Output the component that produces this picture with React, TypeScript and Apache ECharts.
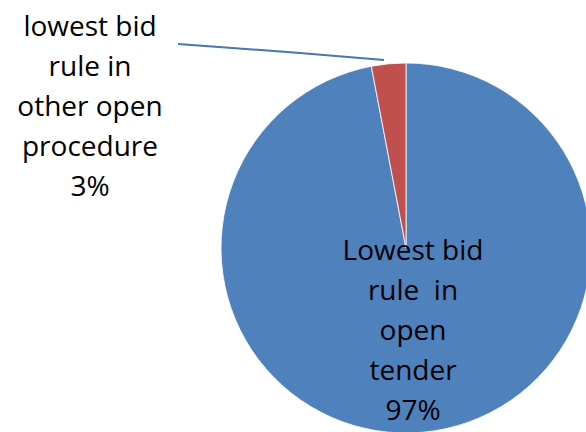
import React, { useEffect, useRef } from "react";
import * as echarts from "echarts";

const categories = [
  "Lowest bid\nrule  in\nopen\ntender",
  "lowest bid\nrule in\nother open\nprocedure",
];
const values = [97, 3];
const colors = ["#4F81BD", "#C0504D"];

export default function App() {
  const ref = useRef<HTMLDivElement>(null);
  useEffect(() => {
    if (!ref.current) return;
    const chart = echarts.init(ref.current, undefined, { renderer: "svg" });
    chart.setOption({
      animation: false,
      backgroundColor: "#ffffff",
      series: [
        {
          type: "pie",
          center: [406, 248],
          radius: 185,
          startAngle: 90,
          clockwise: true,
          avoidLabelOverlap: false,
          itemStyle: { borderColor: "#ffffff", borderWidth: 0.8 },
          label: {
            show: true,
            formatter: (p: any) => `${p.name}\n${p.value}%`,
            fontFamily: "Open Sans",
            fontSize: 28,
            lineHeight: 40,
            color: "#000000",
            align: "center",
          },
          labelLine: {
            show: true,
            lineStyle: { color: "#4677b0", width: 2 },
          },
          labelLayout: (params: any) => {
            if (params.dataIndex === 0) {
              return { x: 413, y: 329, align: "center", verticalAlign: "middle" };
            }
            return {
              x: 90,
              y: 105,
              align: "center",
              verticalAlign: "middle",
              labelLinePoints: [
                [384, 60],
                [300, 53],
                [178, 44],
              ],
            };
          },
          data: categories.map((name, i) => ({
            name,
            value: values[i],
            itemStyle: { color: colors[i] },
            label: { position: i === 0 ? "inside" : "outside" },
            labelLine: { show: i === 1 },
          })),
        },
      ],
    });
    return () => chart.dispose();
  }, []);
  return (
    <div
      ref={ref}
      style={{ position: "fixed", left: 0, top: 0, width: 586, height: 432 }}
    />
  );
}
